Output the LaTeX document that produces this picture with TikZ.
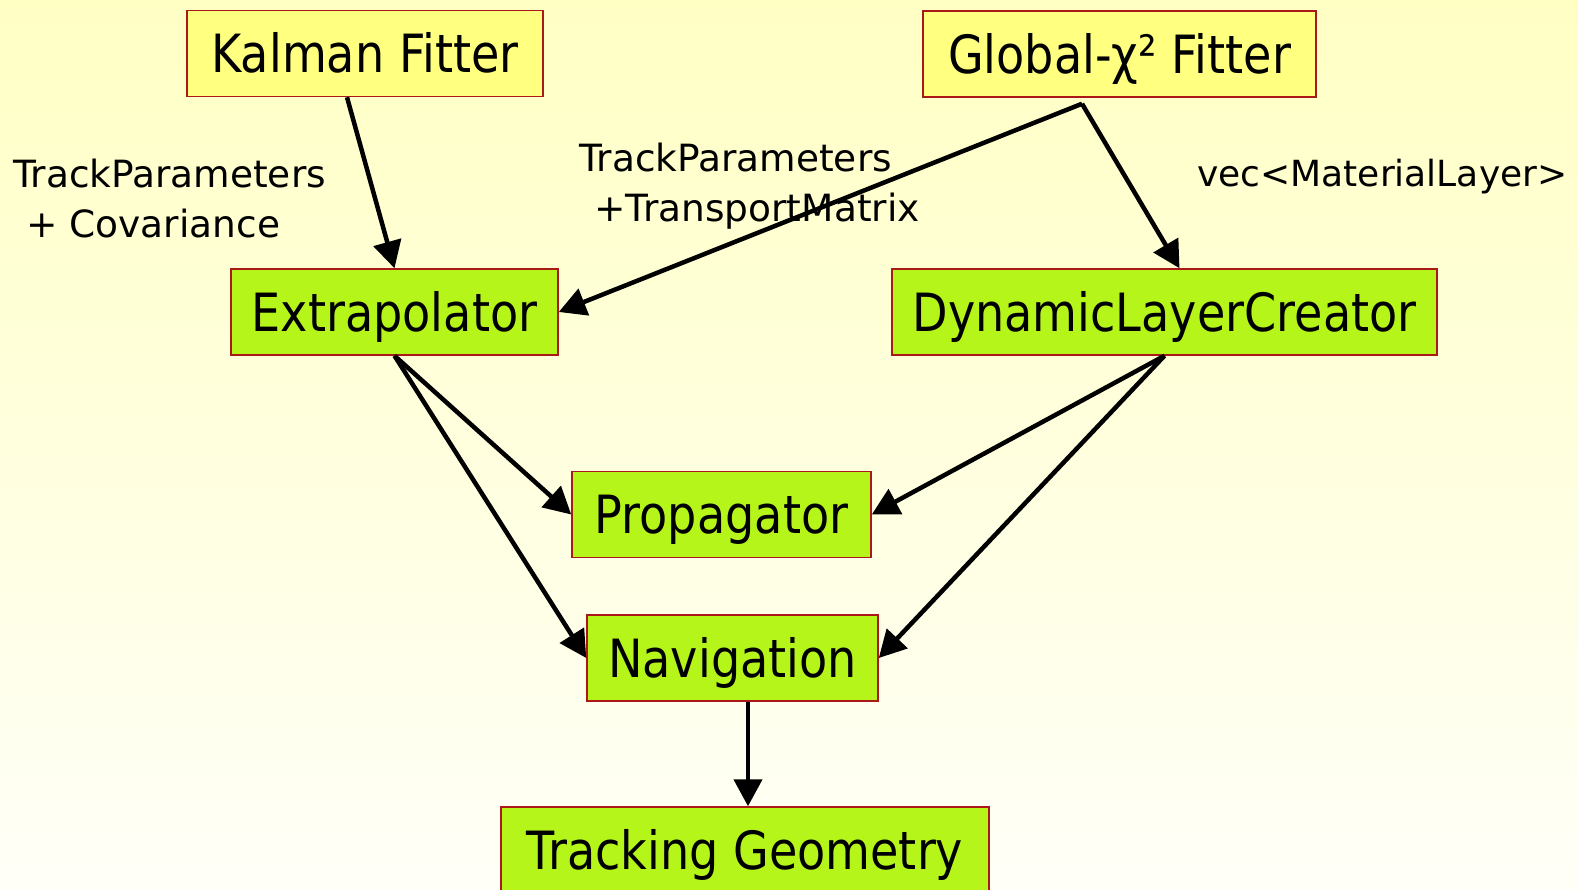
\documentclass[tikz,border=0pt]{standalone}
\usepackage{fontspec}
\setmainfont{DejaVu Sans}
\newfontfamily\boxfont[FakeStretch=0.875]{DejaVu Sans}
\usepackage{tikz}
\usetikzlibrary{arrows.meta}
\definecolor{bgtop}{RGB}{255,255,196}
\definecolor{bgbot}{RGB}{255,255,248}
\definecolor{fitfill}{RGB}{255,255,128}
\definecolor{toolfill}{RGB}{181,245,26}
\definecolor{edgered}{RGB}{170,24,24}

\begin{document}
\begin{tikzpicture}[x=1pt,y=-1pt,
                      fitter/.style={rectangle,draw=edgered,fill=fitfill,line width=1.5pt,inner sep=0pt,minimum height=86pt,text height=38pt,text depth=0pt,font=\boxfont\fontsize{52.7}{60}\selectfont},
                      tool/.style={fitter,fill=toolfill},
                      flow/.style={line width=4.5pt,-{Triangle[length=27pt,width=28pt]}},
                      lbl/.style={anchor=north west,inner sep=0pt,align=left,font=\fontsize{37.5}{50}\selectfont}]
                      \useasboundingbox (0,0) rectangle (1578,889);
                      \shade[top color=bgtop,bottom color=bgbot] (0,0) rectangle (1578,889);

                      \node (kal) at (365,53.5) [fitter,minimum width=356pt] {Kalman Fitter};
                      \node (glob) at (1119.5,54) [fitter,minimum width=393pt] {Global-χ² Fitter};
                      \node (ext) at (394.5,312) [tool,minimum width=327pt] {Extrapolator};
                      \node (dlc) at (1164.5,312) [tool,minimum width=545pt] {DynamicLayerCreator};
                      \node (prop) at (721.5,514.5) [tool,minimum width=299pt] {Propagator};
                      \node (nav) at (732.5,658) [tool,minimum width=291pt] {Navigation};
                      \node (geo) at (745,850) [tool,minimum width=488pt] {Tracking Geometry};

                      \node (cov) at (13,159) [lbl] {TrackParameters\\\hspace*{0.35em}+ Covariance};
                      \node (trm) at (579,143) [lbl] {TrackParameters\\\hspace*{0.4em}+TransportMatrix};
                      \node (mat) at (1197,159) [lbl,font=\fontsize{36}{50}\selectfont] {vec<MaterialLayer>};

                      \coordinate (gsrc) at ([xshift=-37.5pt,yshift=-6pt]glob.south);
                      \draw[flow] ([xshift=-18pt]kal.south)--(ext.north);
                      \draw[flow] (gsrc)--(ext.east);
                      \draw[flow] (gsrc)--([xshift=15pt]dlc.north);
                      \draw[flow] (ext.south)--(prop.west);
                      \draw[flow] (ext.south)--(nav.west);
                      \draw[flow] (dlc.south)--(prop.east);
                      \draw[flow] (dlc.south)--(nav.east);
                      \draw[flow] ([xshift=3pt]nav.south -| geo.north)--([xshift=3pt]geo.north);
                \end{tikzpicture}
\end{document}
